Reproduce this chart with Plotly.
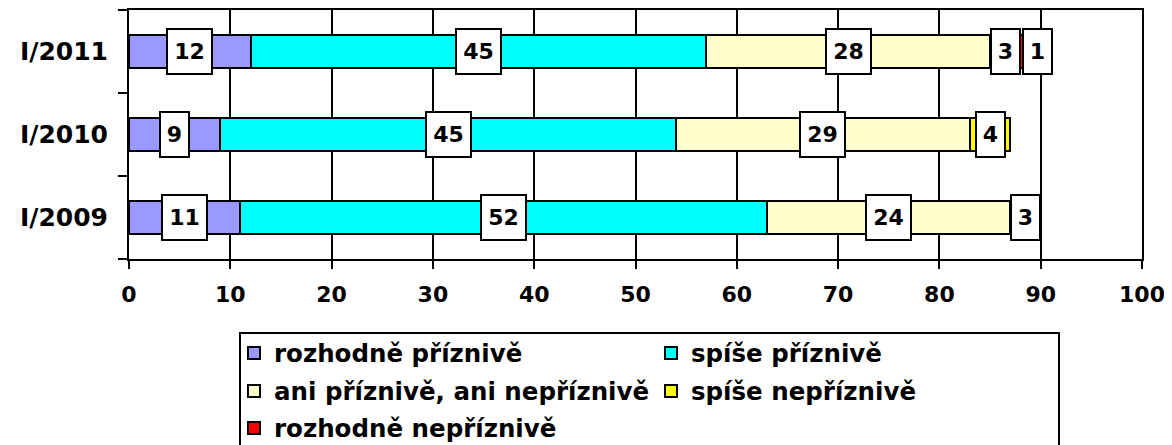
import plotly.graph_objects as go

categories = ["I/2009", "I/2010", "I/2011"]
series_names = ["rozhodně příznivě", "spíše příznivě", "ani příznivě, ani nepříznivě",
                "spíše nepříznivě", "rozhodně nepříznivě"]
rozhodne_priznive = [11, 9, 12]
spise_priznive = [52, 45, 45]
ani_ani = [24, 29, 28]
spise_nepriznive = [3, 4, 3]
rozhodne_nepriznive = [0, 0, 1]
x_ticks = [0, 10, 20, 30, 40, 50, 60, 70, 80, 90, 100]

series_values = [rozhodne_priznive, spise_priznive, ani_ani, spise_nepriznive, rozhodne_nepriznive]
colors = ["#9999FF", "#00FFFF", "#FFFFCC", "#FFFF00", "#FF0000"]

# page body has an 8px margin: figure drawn at (8, 8) in the window
OFF = 8
W, H = 1172 - OFF, 445 - OFF
ML, MR, MT, MB = 129 - OFF, 1172 - 1142, 10 - OFF, 445 - 259
plot_w = W - ML - MR
plot_h = H - MT - MB
px_per_unit = plot_w / 100.0


def cx(px):
    return (px - OFF) / W


def cy(py):
    return 1 - (py - OFF) / H


def paper_x(px):
    return (px - OFF - ML) / plot_w


def paper_y(py):
    return (H - MB - (py - OFF)) / plot_h


FONT = "DejaVu Sans"

fig = go.Figure()
legend_ids = ["legend", "legend", "legend2", "legend2", "legend3"]
for name, vals, col, lg in zip(series_names, series_values, colors, legend_ids):
    fig.add_trace(go.Bar(
        y=categories, x=vals, name=name, orientation="h",
        marker=dict(color=col, line=dict(color="black", width=2)),
        width=0.4, legend=lg,
    ))

# data labels (boxes), with simple overlap avoidance
annotations = []
for ci, cat in enumerate(categories):
    cum = 0.0
    prev_right = None
    for si in range(len(series_values)):
        v = series_values[si][ci]
        if v > 0:
            center = cum + v / 2.0
            txt = str(v)
            box_w = 16 * len(txt) + 15
            half = box_w / 2.0 / px_per_unit
            if prev_right is not None and center - half < prev_right:
                center = prev_right + half + 1.0 / px_per_unit
            prev_right = center + half
            annotations.append(dict(
                x=center, y=cat, xref="x", yref="y", text="<b>%s</b>" % txt,
                showarrow=False, font=dict(family=FONT, size=22, color="black"),
                bgcolor="white", bordercolor="black", borderwidth=2, borderpad=1,
                width=box_w - 6, height=41, align="center", valign="middle",
            ))
        cum += v

fig.update_layout(
    width=W, height=H,
    margin=dict(l=ML, r=MR, t=MT, b=MB, autoexpand=False),
    paper_bgcolor="white", plot_bgcolor="white",
    barmode="stack", bargap=0.6,
    annotations=annotations,
    font=dict(family=FONT, color="black"),
    xaxis=dict(
        range=[0, 100], tickvals=x_ticks, ticktext=[str(t) for t in x_ticks],
        showgrid=True, gridcolor="black", gridwidth=2,
        showline=True, linecolor="black", linewidth=2, mirror=True,
        ticks="outside", ticklen=8, tickwidth=2, tickcolor="black",
        tickfont=dict(family=FONT, size=22, color="black", weight="bold"),
        ticklabelstandoff=7, zeroline=False, fixedrange=True, automargin=False,
    ),
    yaxis=dict(
        type="category", categoryorder="array", categoryarray=categories,
        range=[-0.5, 2.5], showgrid=False,
        showline=True, linecolor="black", linewidth=2, mirror=True,
        ticks="outside", ticklen=9, tickwidth=2, tickcolor="black",
        tickson="boundaries",
        tickfont=dict(family=FONT, size=25, color="black", weight="bold"),
        ticklabelstandoff=14, fixedrange=True, automargin=False,
    ),
    shapes=[dict(type="rect", xref="paper", yref="paper",
                 x0=paper_x(240), x1=paper_x(1059),
                 y0=paper_y(470), y1=paper_y(333),
                 line=dict(color="black", width=2), fillcolor="rgba(0,0,0,0)", layer="above")],
)

leg_common = dict(orientation="h", xref="container", yref="container",
                  xanchor="left", yanchor="middle", x=cx(234),
                  entrywidth=372, entrywidthmode="pixels", traceorder="normal",
                  font=dict(family=FONT, size=24.5, color="black", weight="bold"),
                  bgcolor="rgba(0,0,0,0)", borderwidth=0, itemclick=False, itemdoubleclick=False)
fig.update_layout(
    legend=dict(leg_common, y=cy(353)),
    legend2=dict(leg_common, y=cy(391)),
    legend3=dict(leg_common, y=cy(428)),
)

fig.write_html("out.html")
